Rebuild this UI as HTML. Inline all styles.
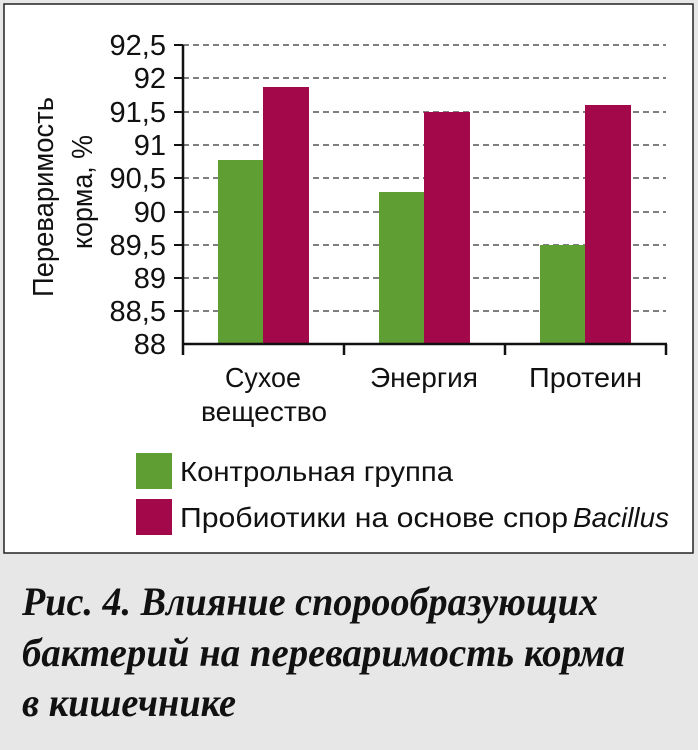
<!DOCTYPE html>
<html><head><meta charset="utf-8"><style>
body{margin:0;width:698px;height:750px;background:#e6e6e6;overflow:hidden}
</style></head><body>
<svg width="698" height="750" xmlns="http://www.w3.org/2000/svg" style="position:absolute;left:0;top:0">
<rect x="0" y="0" width="698" height="750" fill="#e7e7e7"/>
<rect x="4" y="4" width="689" height="549" fill="#ffffff" stroke="#222" stroke-width="1.5"/>
<g stroke="#333" stroke-width="1.2" stroke-dasharray="6,4">
<line x1="183" y1="45" x2="666" y2="45"/><line x1="183" y1="78" x2="666" y2="78"/>
<line x1="183" y1="112" x2="666" y2="112"/><line x1="183" y1="145" x2="666" y2="145"/>
<line x1="183" y1="178" x2="666" y2="178"/><line x1="183" y1="212" x2="666" y2="212"/>
<line x1="183" y1="245" x2="666" y2="245"/><line x1="183" y1="278" x2="666" y2="278"/>
<line x1="183" y1="311" x2="666" y2="311"/>
</g>
<g>
<rect x="218" y="160" width="45" height="184" fill="#5f9e32"/>
<rect x="263" y="87" width="46" height="257" fill="#a3084b"/>
<rect x="379" y="192" width="45" height="152" fill="#5f9e32"/>
<rect x="424" y="112" width="46" height="232" fill="#a3084b"/>
<rect x="540" y="245" width="45" height="99" fill="#5f9e32"/>
<rect x="585" y="105" width="46" height="239" fill="#a3084b"/>
</g>
<g stroke="#111" stroke-width="2.5" fill="none">
<line x1="183" y1="45" x2="183" y2="355"/>
<line x1="182" y1="344" x2="667" y2="344"/>
<line x1="344" y1="344" x2="344" y2="355"/><line x1="505" y1="344" x2="505" y2="355"/><line x1="666" y1="344" x2="666" y2="355"/>
<g stroke-width="2"><line x1="174" y1="45" x2="183" y2="45"/><line x1="174" y1="78" x2="183" y2="78"/><line x1="174" y1="112" x2="183" y2="112"/><line x1="174" y1="145" x2="183" y2="145"/><line x1="174" y1="178" x2="183" y2="178"/><line x1="174" y1="212" x2="183" y2="212"/><line x1="174" y1="245" x2="183" y2="245"/><line x1="174" y1="278" x2="183" y2="278"/><line x1="174" y1="311" x2="183" y2="311"/></g>
</g>
<g font-family="Liberation Sans, DejaVu Sans, sans-serif" font-size="29" fill="#111" text-anchor="end">
<text x="166" y="55">92,5</text><text x="166" y="88">92</text><text x="166" y="122">91,5</text>
<text x="166" y="155">91</text><text x="166" y="188">90,5</text><text x="166" y="222">90</text>
<text x="166" y="255">89,5</text><text x="166" y="288">89</text><text x="166" y="321">88,5</text>
<text x="166" y="354">88</text>
</g>
<g font-family="Liberation Sans, DejaVu Sans, sans-serif" font-size="29" fill="#111">
<text transform="translate(53,297) rotate(-90)" textLength="200" lengthAdjust="spacingAndGlyphs">Переваримость</text>
<text transform="translate(92,249) rotate(-90)" textLength="114" lengthAdjust="spacingAndGlyphs">корма, %</text>
</g>
<g font-family="Liberation Sans, DejaVu Sans, sans-serif" font-size="28" fill="#111">
<text x="225" y="387" textLength="76" lengthAdjust="spacingAndGlyphs">Сухое</text>
<text x="201" y="421" textLength="126" lengthAdjust="spacingAndGlyphs">вещество</text>
<text x="370" y="387" textLength="108" lengthAdjust="spacingAndGlyphs">Энергия</text>
<text x="529" y="387" textLength="113" lengthAdjust="spacingAndGlyphs">Протеин</text>
</g>
<rect x="136" y="453" width="36" height="36" fill="#5f9e32"/>
<rect x="136" y="499" width="36" height="36" fill="#a3084b"/>
<g font-family="Liberation Sans, DejaVu Sans, sans-serif" font-size="28" fill="#111">
<text x="180" y="481" textLength="273" lengthAdjust="spacingAndGlyphs">Контрольная группа</text>
<text x="180" y="527" textLength="388" lengthAdjust="spacingAndGlyphs">Пробиотики на основе спор</text>
<text x="573" y="527" font-style="italic" textLength="96" lengthAdjust="spacingAndGlyphs">Bacillus</text>
</g>
<g font-family="Liberation Serif, serif" font-size="40" font-weight="bold" font-style="italic" fill="#111">
<text x="22" y="615" textLength="576" lengthAdjust="spacingAndGlyphs">Рис. 4. Влияние спорообразующих</text>
<text x="22" y="666" textLength="603" lengthAdjust="spacingAndGlyphs">бактерий на переваримость корма</text>
<text x="22" y="716" textLength="214" lengthAdjust="spacingAndGlyphs">в кишечнике</text>
</g>
</svg>
</body></html>
